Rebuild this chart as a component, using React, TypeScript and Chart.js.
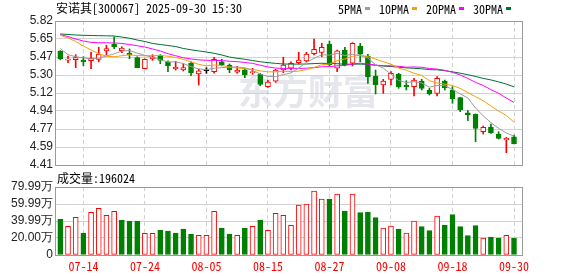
import React, { useEffect, useRef } from 'react';
import { Chart, registerables } from 'chart.js';

Chart.register(...registerables);

// ---------- data ----------
const title = '安诺其[300067] 2025-09-30 15:30';
const maNames = ['5PMA', '10PMA', '20PMA', '30PMA'];
const volumeTitle = '成交量';
const lastVolume = 196024;

const dates = [
  '07-09', '07-10', '07-11', '07-14', '07-15', '07-16', '07-17', '07-18', '07-21', '07-22',
  '07-23', '07-24', '07-25', '07-28', '07-29', '07-30', '07-31', '08-01', '08-04', '08-05',
  '08-06', '08-07', '08-08', '08-11', '08-12', '08-13', '08-14', '08-15', '08-18', '08-19',
  '08-20', '08-21', '08-22', '08-25', '08-26', '08-27', '08-28', '08-29', '09-01', '09-02',
  '09-03', '09-04', '09-05', '09-08', '09-09', '09-10', '09-11', '09-12', '09-15', '09-16',
  '09-17', '09-18', '09-19', '09-22', '09-23', '09-24', '09-25', '09-26', '09-29', '09-30',
];
const dateTicks = ['07-14', '07-24', '08-05', '08-15', '08-27', '09-08', '09-18', '09-30'];

const prevClose = 5.53;
const opens = [
  5.526, 5.437, 5.441, 5.438, 5.431, 5.445, 5.526, 5.592, 5.529, 5.507,
  5.461, 5.353, 5.448, 5.487, 5.415, 5.35, 5.34, 5.406, 5.301, 5.333,
  5.324, 5.42, 5.389, 5.318, 5.343, 5.314, 5.298, 5.177, 5.232, 5.34,
  5.357, 5.412, 5.428, 5.5, 5.513, 5.595, 5.357, 5.536, 5.406, 5.575,
  5.477, 5.281, 5.193, 5.249, 5.301, 5.193, 5.177, 5.232, 5.144, 5.112,
  5.232, 5.144, 5.069, 4.922, 4.909, 4.736, 4.779, 4.713, 4.655, 4.687,
];
const highs = [
  5.53, 5.477, 5.49, 5.47, 5.516, 5.562, 5.582, 5.666, 5.568, 5.546,
  5.47, 5.45, 5.49, 5.49, 5.431, 5.425, 5.4, 5.42, 5.347, 5.363,
  5.465, 5.445, 5.399, 5.376, 5.357, 5.357, 5.308, 5.24, 5.347, 5.465,
  5.42, 5.513, 5.513, 5.644, 5.602, 5.624, 5.536, 5.562, 5.608, 5.602,
  5.494, 5.34, 5.249, 5.324, 5.308, 5.236, 5.259, 5.249, 5.161, 5.275,
  5.242, 5.177, 5.073, 4.942, 4.909, 4.792, 4.811, 4.736, 4.681, 4.704,
];
const lows = [
  5.44, 5.412, 5.363, 5.382, 5.353, 5.42, 5.487, 5.549, 5.51, 5.451,
  5.363, 5.35, 5.435, 5.402, 5.324, 5.34, 5.33, 5.284, 5.193, 5.308,
  5.308, 5.38, 5.314, 5.308, 5.265, 5.298, 5.187, 5.17, 5.22, 5.314,
  5.34, 5.399, 5.42, 5.487, 5.47, 5.382, 5.324, 5.38, 5.38, 5.42,
  5.21, 5.105, 5.112, 5.193, 5.161, 5.144, 5.086, 5.144, 5.095, 5.086,
  5.144, 5.014, 4.932, 4.844, 4.638, 4.713, 4.72, 4.664, 4.531, 4.616,
];
const closes = [
  5.448, 5.448, 5.461, 5.419, 5.458, 5.497, 5.549, 5.568, 5.556, 5.487,
  5.363, 5.445, 5.47, 5.435, 5.382, 5.37, 5.363, 5.314, 5.333, 5.333,
  5.445, 5.389, 5.34, 5.34, 5.294, 5.324, 5.2, 5.223, 5.34, 5.389,
  5.406, 5.438, 5.497, 5.543, 5.562, 5.389, 5.529, 5.389, 5.602, 5.494,
  5.275, 5.193, 5.232, 5.308, 5.177, 5.177, 5.242, 5.161, 5.105, 5.259,
  5.167, 5.056, 4.949, 4.9, 4.769, 4.779, 4.726, 4.671, 4.671, 4.616,
];
// volume in 万
const volumes = [
  42.4, 33.7, 44.3, 25.9, 50.2, 54.9, 46.7, 51.4, 41.2, 40.0,
  40.0, 25.5, 25.5, 29.4, 28.2, 25.9, 30.6, 24.7, 23.1, 23.1,
  51.4, 31.8, 24.7, 23.1, 31.8, 33.7, 41.2, 29.0, 49.0, 46.7,
  35.0, 58.8, 60.0, 75.3, 65.9, 65.9, 71.8, 51.8, 71.8, 49.8,
  50.6, 43.9, 31.8, 34.1, 30.6, 25.9, 40.0, 33.3, 28.6, 45.9,
  35.3, 47.5, 33.3, 22.7, 34.5, 20.0, 21.2, 20.0, 23.1, 19.6,
];
const ma5 = [
  5.55, 5.49, 5.47, 5.46, 5.447, 5.457, 5.477, 5.498, 5.526, 5.531,
  5.505, 5.484, 5.464, 5.44, 5.419, 5.42, 5.404, 5.373, 5.352, 5.343,
  5.358, 5.363, 5.368, 5.369, 5.362, 5.337, 5.3, 5.276, 5.276, 5.295,
  5.312, 5.359, 5.414, 5.455, 5.489, 5.486, 5.504, 5.482, 5.494, 5.481,
  5.458, 5.391, 5.359, 5.3, 5.237, 5.217, 5.227, 5.213, 5.172, 5.189,
  5.187, 5.15, 5.107, 5.066, 4.968, 4.891, 4.825, 4.769, 4.723, 4.693,
];
const ma10 = [
  5.68, 5.654, 5.62, 5.575, 5.536, 5.5, 5.475, 5.47, 5.48, 5.489,
  5.481, 5.48, 5.481, 5.483, 5.475, 5.463, 5.444, 5.419, 5.396, 5.381,
  5.389, 5.384, 5.37, 5.361, 5.352, 5.347, 5.331, 5.322, 5.323, 5.328,
  5.325, 5.329, 5.345, 5.365, 5.392, 5.399, 5.432, 5.448, 5.474, 5.485,
  5.472, 5.447, 5.421, 5.397, 5.359, 5.338, 5.309, 5.286, 5.236, 5.213,
  5.202, 5.188, 5.16, 5.119, 5.079, 5.039, 4.987, 4.938, 4.895, 4.83,
];
const ma20 = [
  5.686, 5.668, 5.644, 5.624, 5.611, 5.607, 5.607, 5.605, 5.6, 5.59,
  5.578, 5.565, 5.546, 5.526, 5.5, 5.48, 5.46, 5.448, 5.44, 5.435,
  5.435, 5.432, 5.426, 5.422, 5.414, 5.405, 5.387, 5.37, 5.359, 5.355,
  5.357, 5.356, 5.358, 5.363, 5.372, 5.373, 5.381, 5.385, 5.399, 5.407,
  5.398, 5.388, 5.383, 5.381, 5.376, 5.368, 5.37, 5.367, 5.355, 5.349,
  5.337, 5.318, 5.291, 5.258, 5.219, 5.188, 5.148, 5.112, 5.066, 5.022,
];
const ma30 = [
  5.693, 5.688, 5.683, 5.68, 5.678, 5.676, 5.675, 5.673, 5.663, 5.651,
  5.634, 5.619, 5.6, 5.59, 5.58, 5.57, 5.551, 5.538, 5.527, 5.516,
  5.504, 5.487, 5.467, 5.455, 5.445, 5.433, 5.421, 5.412, 5.405, 5.399,
  5.398, 5.398, 5.399, 5.403, 5.406, 5.403, 5.402, 5.396, 5.398, 5.398,
  5.395, 5.387, 5.379, 5.374, 5.368, 5.361, 5.357, 5.352, 5.344, 5.342,
  5.333, 5.322, 5.309, 5.294, 5.277, 5.258, 5.243, 5.224, 5.202, 5.176,
];

const priceMin = 4.41;
const priceMax = 5.82;
const priceTickLabels = ['4.41', '4.59', '4.77', '4.94', '5.12', '5.30', '5.47', '5.65', '5.82'];
const volMax = 79.99;
const volTickValues = [0, 20.0, 39.99, 59.99, 79.99];
const volTickLabels = ['0', '20.00万', '39.99万', '59.99万', '79.99万'];

// ---------- style ----------
const RED = '#ff0000';
const GREEN = '#008000';
const maColors = ['#9c9c9c', '#f4a300', '#ff00ff', '#006f35'];
const MONO = '"Noto Sans Mono CJK SC", "Noto Sans CJK SC", "DejaVu Sans Mono", monospace';
const SANS = '"Liberation Sans", Arial, sans-serif';
const GRID = '#d2d2d2';
const FRAME = '#9a9a9a';
const X_MIN = -0.56;
const X_MAX = 60.04;
const AXIS_W = 56;

function candleColor(i: number) {
  const o = opens[i];
  const c = closes[i];
  if (c > o) return RED;
  if (c < o) return GREEN;
  const p = i > 0 ? closes[i - 1] : prevClose;
  return c > p ? RED : c < p ? GREEN : '#000000';
}
function volUp(i: number) {
  const p = i > 0 ? closes[i - 1] : prevClose;
  return closes[i] >= p;
}
const tickIdx = dateTicks.map((d) => dates.indexOf(d));

const framePlugin = {
  id: 'frame',
  afterDatasetsDraw(chart: any) {
    const { ctx, chartArea: a } = chart;
    ctx.save();
    ctx.strokeStyle = FRAME;
    ctx.lineWidth = 1;
    ctx.strokeRect(a.left - 0.5, a.top + 0.5, a.right - a.left + 1, a.bottom - a.top);
    ctx.restore();
  },
};

const watermarkPlugin = {
  id: 'watermark',
  beforeDatasetsDraw(chart: any) {
    const { ctx } = chart;
    ctx.save();
    ctx.fillStyle = 'rgba(205,208,218,0.5)';
    ctx.font = 'bold 35px "Noto Sans CJK SC", sans-serif';
    ctx.textBaseline = 'middle';
    ctx.textAlign = 'left';
    ctx.fillText('东方财富', 238, 92);
    ctx.restore();
  },
};

const headerPlugin = {
  id: 'header',
  afterDraw(chart: any) {
    const { ctx } = chart;
    ctx.save();
    ctx.font = '12px ' + MONO;
    ctx.textBaseline = 'middle';
    ctx.textAlign = 'left';
    ctx.fillStyle = '#000';
    ctx.fillText(title, 56, 8.5);
    let x = 338;
    maNames.forEach((name, k) => {
      ctx.fillStyle = '#000';
      ctx.fillText(name, x, 9);
      x += ctx.measureText(name).width;
      ctx.fillStyle = maColors[k];
      ctx.fillRect(Math.round(x + 3), 7, 5, 3);
      x += 3 + 5 + 9;
    });
    ctx.restore();
  },
};

const volHeaderPlugin = {
  id: 'volHeader',
  afterDraw(chart: any) {
    const { ctx } = chart;
    ctx.save();
    ctx.font = '12px ' + MONO;
    ctx.textBaseline = 'middle';
    ctx.textAlign = 'left';
    ctx.fillStyle = '#000';
    ctx.fillText(volumeTitle + ':' + lastVolume, 57, 10);
    ctx.restore();
  },
};

export default function App() {
  const priceRef = useRef<HTMLCanvasElement>(null);
  const volRef = useRef<HTMLCanvasElement>(null);

  useEffect(() => {
    const idx = dates.map((_, i) => i);

    const xScaleBase = (showLabels: boolean) => ({
      type: 'linear',
      min: X_MIN,
      max: X_MAX,
      offset: false,
      bounds: 'data',
      afterBuildTicks: (s: any) => {
        s.ticks = tickIdx.map((v) => ({ value: v }));
      },
      afterFit: (s: any) => {
        s.height = showLabels ? 21 : 0;
        s.paddingLeft = 0;
        s.paddingRight = 0;
      },
      ticks: {
        display: showLabels,
        autoSkip: false,
        maxRotation: 0,
        minRotation: 0,
        padding: 4,
        color: RED,
        font: { family: MONO, size: 12 },
        callback: (v: any) => dates[v] ?? '',
      },
      grid: { color: GRID, lineWidth: 1, drawTicks: false, offset: false },
      border: { display: false, dash: [4, 3] },
    });

    const yScaleBase = (min: number, max: number, values: number[], labels: string[]) => ({
      type: 'linear',
      min,
      max,
      afterBuildTicks: (s: any) => {
        s.ticks = values.map((v) => ({ value: v }));
      },
      afterFit: (s: any) => {
        s.width = AXIS_W;
        s.paddingTop = 0;
        s.paddingBottom = 0;
      },
      ticks: {
        autoSkip: false,
        padding: 3,
        color: '#222',
        font: { family: SANS, size: 12 },
        callback: (_v: any, k: number) => labels[k],
      },
      grid: { color: GRID, lineWidth: 1, drawTicks: false },
      border: { display: false },
    });

    const priceValues = priceTickLabels.map(
      (_, k) => priceMin + (k * (priceMax - priceMin)) / (priceTickLabels.length - 1)
    );

    const priceChart = new Chart(priceRef.current as HTMLCanvasElement, {
      type: 'bar',
      data: {
        datasets: [
          ...[ma5, ma10, ma20, ma30].map((arr, k) => ({
            type: 'line',
            label: maNames[k],
            data: arr.map((v, i) => ({ x: i, y: v })),
            borderColor: maColors[k],
            borderWidth: 1,
            pointRadius: 0,
            tension: 0,
            fill: false,
            order: 0,
          })),
          {
            type: 'bar',
            label: 'body',
            data: idx.map((i) => ({ x: i, y: [opens[i], closes[i]] })),
            backgroundColor: idx.map((i) => (closes[i] > opens[i] ? '#ffffff' : candleColor(i))),
            borderColor: idx.map((i) => candleColor(i)),
            borderWidth: 1,
            borderSkipped: false,
            barThickness: 5,
            minBarLength: 1,
            grouped: false,
            order: 1,
          },
          {
            type: 'bar',
            label: 'wick',
            data: idx.map((i) => ({ x: i, y: [lows[i], highs[i]] })),
            backgroundColor: idx.map((i) => candleColor(i)),
            borderWidth: 0,
            barThickness: 1,
            grouped: false,
            order: 2,
          },
        ] as any,
      },
      options: {
        responsive: false,
        animation: false,
        events: [],
        layout: { padding: { left: 0, right: 56, top: 21, bottom: 3 } },
        plugins: { legend: { display: false }, tooltip: { enabled: false }, title: { display: false } },
        scales: {
          x: xScaleBase(false) as any,
          y: yScaleBase(priceMin, priceMax, priceValues, priceTickLabels) as any,
        },
      },
      plugins: [watermarkPlugin, framePlugin, headerPlugin],
    } as any);

    const volChart = new Chart(volRef.current as HTMLCanvasElement, {
      type: 'bar',
      data: {
        datasets: [
          {
            label: 'volume',
            data: idx.map((i) => ({ x: i, y: volumes[i] })),
            backgroundColor: idx.map((i) => (volUp(i) ? '#ffffff' : GREEN)),
            borderColor: idx.map((i) => (volUp(i) ? RED : GREEN)),
            borderWidth: 1,
            borderSkipped: false,
            barThickness: 5,
            grouped: false,
          },
        ] as any,
      },
      options: {
        responsive: false,
        animation: false,
        events: [],
        layout: { padding: { left: 0, right: 56, top: 19, bottom: 0 } },
        plugins: { legend: { display: false }, tooltip: { enabled: false } },
        scales: {
          x: xScaleBase(true) as any,
          y: yScaleBase(0, volMax, volTickValues, volTickLabels) as any,
        },
      },
      plugins: [framePlugin, volHeaderPlugin],
    } as any);

    return () => {
      priceChart.destroy();
      volChart.destroy();
    };
  }, []);

  return (
    <div style={{ position: 'fixed', left: 0, top: 0, width: 578, height: 276, background: '#ffffff' }}>
      <canvas
        ref={priceRef}
        width={578}
        height={168}
        style={{ position: 'absolute', left: 0, top: 0, width: 578, height: 168, display: 'block' }}
      />
      <canvas
        ref={volRef}
        width={578}
        height={108}
        style={{ position: 'absolute', left: 0, top: 168, width: 578, height: 108, display: 'block' }}
      />
    </div>
  );
}
